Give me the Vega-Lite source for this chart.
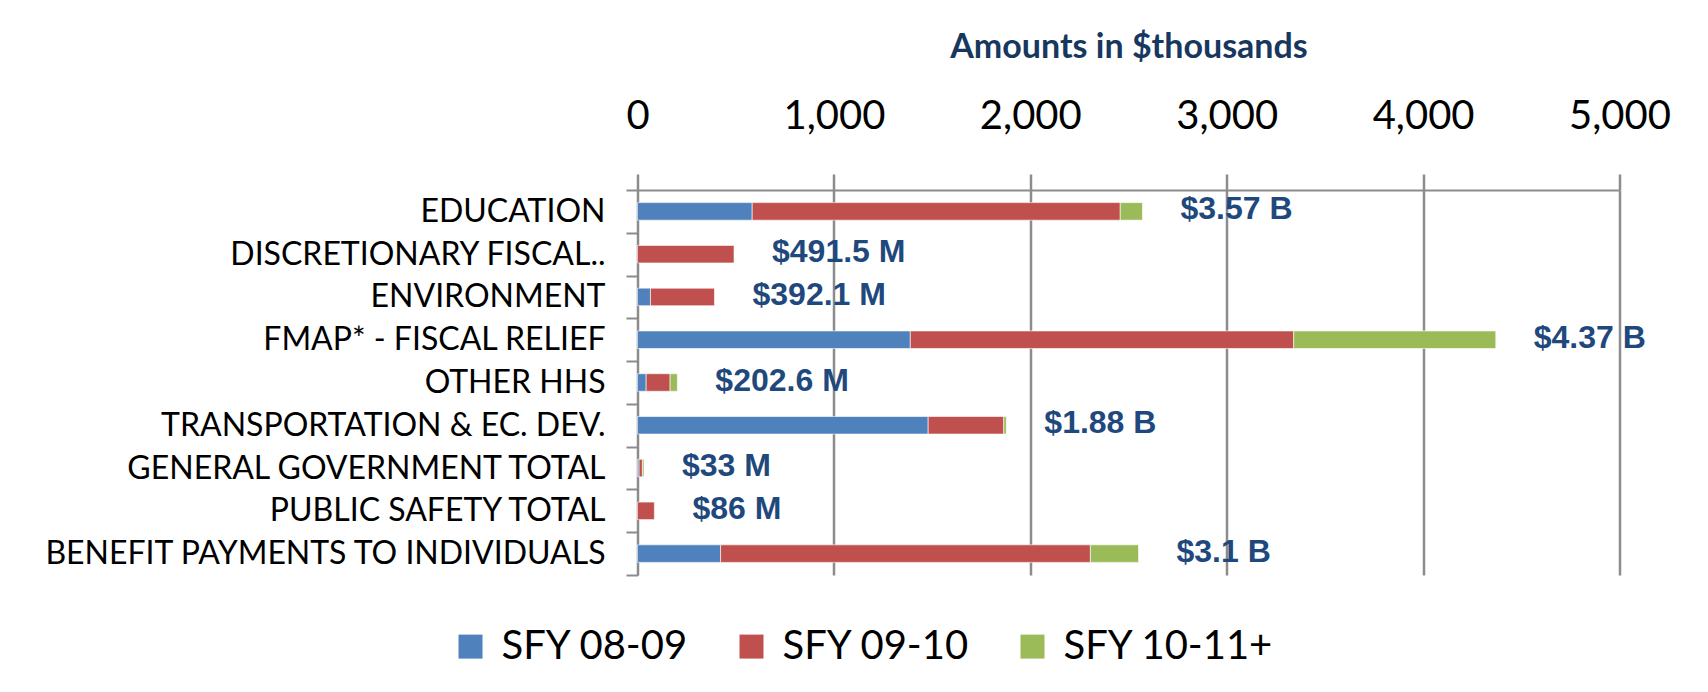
{
  "$schema": "https://vega.github.io/schema/vega-lite/v6.json",
  "width": 982,
  "height": 385,
  "autosize": {"type": "none"},
  "padding": {"left": 637.5, "top": 190, "right": 88.5, "bottom": 117},
  "background": "white",
  "config": {"view": {"stroke": null}},
  "datasets": {
    "amounts": [
      {"category": "EDUCATION", "series": "SFY 08-09", "amount": 584},
      {"category": "EDUCATION", "series": "SFY 09-10", "amount": 1874},
      {"category": "EDUCATION", "series": "SFY 10-11+", "amount": 113},
      {"category": "DISCRETIONARY FISCAL..", "series": "SFY 09-10", "amount": 491.5},
      {"category": "ENVIRONMENT", "series": "SFY 08-09", "amount": 66},
      {"category": "ENVIRONMENT", "series": "SFY 09-10", "amount": 326},
      {"category": "FMAP* - FISCAL RELIEF", "series": "SFY 08-09", "amount": 1389},
      {"category": "FMAP* - FISCAL RELIEF", "series": "SFY 09-10", "amount": 1952},
      {"category": "FMAP* - FISCAL RELIEF", "series": "SFY 10-11+", "amount": 1029},
      {"category": "OTHER HHS", "series": "SFY 08-09", "amount": 44},
      {"category": "OTHER HHS", "series": "SFY 09-10", "amount": 122},
      {"category": "OTHER HHS", "series": "SFY 10-11+", "amount": 37},
      {"category": "TRANSPORTATION & EC. DEV.", "series": "SFY 08-09", "amount": 1480},
      {"category": "TRANSPORTATION & EC. DEV.", "series": "SFY 09-10", "amount": 385},
      {"category": "TRANSPORTATION & EC. DEV.", "series": "SFY 10-11+", "amount": 13},
      {"category": "GENERAL GOVERNMENT TOTAL", "series": "SFY 08-09", "amount": 8},
      {"category": "GENERAL GOVERNMENT TOTAL", "series": "SFY 09-10", "amount": 17},
      {"category": "GENERAL GOVERNMENT TOTAL", "series": "SFY 10-11+", "amount": 8},
      {"category": "PUBLIC SAFETY TOTAL", "series": "SFY 09-10", "amount": 86},
      {"category": "BENEFIT PAYMENTS TO INDIVIDUALS", "series": "SFY 08-09", "amount": 423},
      {"category": "BENEFIT PAYMENTS TO INDIVIDUALS", "series": "SFY 09-10", "amount": 1883},
      {"category": "BENEFIT PAYMENTS TO INDIVIDUALS", "series": "SFY 10-11+", "amount": 245}
    ],
    "labels": [
      {"category": "EDUCATION", "label": "$3.57 B"},
      {"category": "DISCRETIONARY FISCAL..", "label": "$491.5 M"},
      {"category": "ENVIRONMENT", "label": "$392.1 M"},
      {"category": "FMAP* - FISCAL RELIEF", "label": "$4.37 B"},
      {"category": "OTHER HHS", "label": "$202.6 M"},
      {"category": "TRANSPORTATION & EC. DEV.", "label": "$1.88 B"},
      {"category": "GENERAL GOVERNMENT TOTAL", "label": "$33 M"},
      {"category": "PUBLIC SAFETY TOTAL", "label": "$86 M"},
      {"category": "BENEFIT PAYMENTS TO INDIVIDUALS", "label": "$3.1 B"}
    ]
  },
  "data": {"name": "amounts"},
  "encoding": {
    "y": {
      "field": "category",
      "type": "nominal",
      "sort": ["EDUCATION", "DISCRETIONARY FISCAL..", "ENVIRONMENT", "FMAP* - FISCAL RELIEF", "OTHER HHS", "TRANSPORTATION & EC. DEV.", "GENERAL GOVERNMENT TOTAL", "PUBLIC SAFETY TOTAL", "BENEFIT PAYMENTS TO INDIVIDUALS"],
      "scale": {"paddingInner": 0, "paddingOuter": 0},
      "axis": {
        "title": null,
        "labelFont": "Lato",
        "labelFontSize": 32,
        "labelColor": "#000000",
        "labelLimit": 700,
        "labelPadding": 21,
        "domainColor": "#8c8c8c",
        "domainWidth": 2,
        "tickColor": "#8c8c8c",
        "tickWidth": 2,
        "tickSize": 11.5,
        "tickBand": "extent",
        "grid": false
      }
    }
  },
  "layer": [
    {
      "mark": {"type": "bar", "height": {"band": 0.41}, "stroke": "#ffffff", "strokeWidth": 0.6},
      "encoding": {
        "x": {
          "field": "amount",
          "type": "quantitative",
          "stack": "zero",
          "scale": {"domain": [0, 5000], "nice": false},
          "axis": {
            "orient": "top",
            "title": "Amounts in $thousands",
            "titleFont": "Lato",
            "titleFontWeight": "bold",
            "titleFontSize": 34,
            "titleColor": "#17375E",
            "titlePadding": 32,
            "values": [0, 1000, 2000, 3000, 4000, 5000],
            "format": ",d",
            "labelFlush": false,
            "labelFont": "Lato",
            "labelFontSize": 40,
            "labelColor": "#000000",
            "labelPadding": 38,
            "grid": true,
            "gridColor": "#8c8c8c",
            "gridWidth": 2.5,
            "domainColor": "#8c8c8c",
            "domainWidth": 2,
            "tickColor": "#8c8c8c",
            "tickWidth": 2.5,
            "tickSize": 16
          }
        },
        "color": {
          "field": "series",
          "type": "nominal",
          "scale": {"domain": ["SFY 08-09", "SFY 09-10", "SFY 10-11+"], "range": ["#4F81BD", "#C0504D", "#9BBB59"]},
          "legend": {
            "title": null,
            "orient": "none",
            "direction": "horizontal",
            "legendX": -187,
            "legendY": 436.6,
            "symbolType": "square",
            "symbolSize": 576,
            "symbolStrokeWidth": 0,
            "labelFont": "Lato",
            "labelFontSize": 40,
            "labelColor": "#000000",
            "labelOffset": 11,
            "columnPadding": 42,
            "labelLimit": 400
          }
        }
      }
    },
    {
      "transform": [
        {"aggregate": [{"op": "sum", "field": "amount", "as": "total"}], "groupby": ["category"]},
        {"lookup": "category", "from": {"data": {"name": "labels"}, "key": "category", "fields": ["label"]}}
      ],
      "mark": {"type": "text", "align": "left", "baseline": "middle", "dx": 38, "dy": -2, "font": "Liberation Sans", "fontWeight": "bold", "fontSize": 32, "color": "#1F497D"},
      "encoding": {
        "x": {"field": "total", "type": "quantitative", "title": "Amounts in $thousands"},
        "text": {"field": "label"}
      }
    }
  ]
}
